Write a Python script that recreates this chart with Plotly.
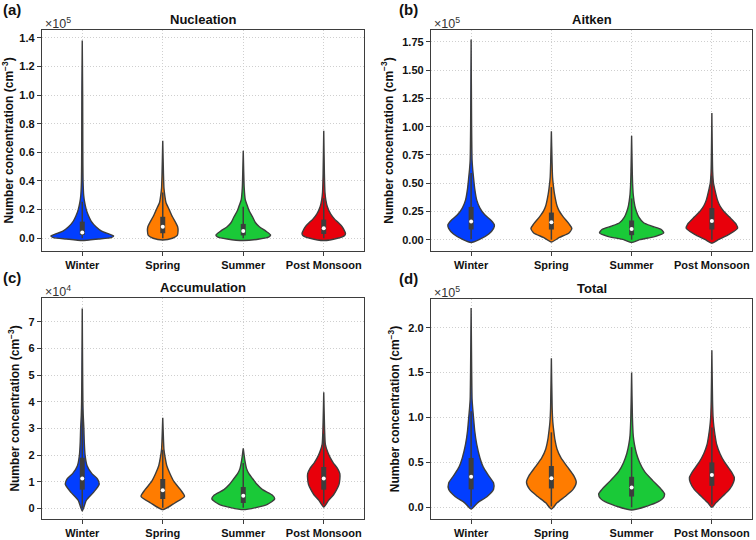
import plotly.graph_objects as go

SEASONS = ["Winter", "Spring", "Summer", "Post Monsoon"]
COLORS = ["#023eff", "#ff7c00", "#1ac938", "#e8000b"]

# ---------------- (a) Nucleation (x1e5 cm^-3) ----------------
NUC_Y = [
    [-0.016, -0.005, 0.005, 0.015, 0.03, 0.05, 0.08, 0.12, 0.16, 0.2, 0.25, 0.3, 0.4, 0.6, 1.0, 1.38],
    [-0.012, 0.0, 0.02, 0.05, 0.08, 0.11, 0.15, 0.2, 0.25, 0.3, 0.35, 0.45, 0.68],
    [-0.016, -0.005, 0.01, 0.023, 0.05, 0.08, 0.11, 0.15, 0.19, 0.22, 0.27, 0.35, 0.61],
    [-0.016, 0.0, 0.02, 0.035, 0.06, 0.08, 0.11, 0.13, 0.17, 0.22, 0.27, 0.32, 0.45, 0.75],
]
NUC_W = [
    [0.0, 0.2, 0.36, 0.39, 0.33, 0.24, 0.17, 0.11, 0.075, 0.05, 0.03, 0.018, 0.01, 0.007, 0.005, 0.0],
    [0.0, 0.12, 0.18, 0.19, 0.185, 0.16, 0.12, 0.08, 0.04, 0.025, 0.015, 0.009, 0.0],
    [0.0, 0.2, 0.32, 0.34, 0.28, 0.2, 0.15, 0.115, 0.075, 0.055, 0.025, 0.012, 0.0],
    [0.0, 0.17, 0.26, 0.27, 0.25, 0.23, 0.18, 0.14, 0.085, 0.045, 0.025, 0.015, 0.008, 0.0],
]
NUC_Q1 = [0.023, 0.035, 0.02, 0.03]
NUC_MED = [0.04, 0.08, 0.05, 0.07]
NUC_Q3 = [0.116, 0.15, 0.10, 0.13]
NUC_WLO = [0.0, 0.0, 0.0, 0.0]
NUC_WHI = [0.255, 0.32, 0.22, 0.28]

# ---------------- (b) Aitken (x1e5 cm^-3) ----------------
AIT_Y = [
    [-0.025, 0.0, 0.05, 0.1, 0.13, 0.17, 0.22, 0.28, 0.35, 0.45, 0.55, 0.62, 0.7, 1.0, 1.77],
    [-0.02, 0.02, 0.06, 0.1, 0.14, 0.2, 0.25, 0.3, 0.4, 0.45, 0.55, 0.7, 0.96],
    [-0.025, 0.0, 0.03, 0.06, 0.09, 0.12, 0.15, 0.2, 0.25, 0.3, 0.4, 0.5, 0.6, 0.92],
    [-0.03, 0.0, 0.05, 0.1, 0.14, 0.2, 0.25, 0.3, 0.35, 0.45, 0.5, 0.6, 1.12],
]
AIT_W = [
    [0.0, 0.1, 0.22, 0.28, 0.29, 0.25, 0.17, 0.11, 0.07, 0.045, 0.03, 0.02, 0.012, 0.006, 0.0],
    [0.0, 0.1, 0.22, 0.255, 0.22, 0.15, 0.1, 0.07, 0.04, 0.03, 0.015, 0.008, 0.0],
    [0.0, 0.1, 0.3, 0.4, 0.37, 0.25, 0.15, 0.09, 0.06, 0.04, 0.02, 0.012, 0.008, 0.0],
    [0.0, 0.08, 0.22, 0.32, 0.3, 0.22, 0.15, 0.1, 0.07, 0.035, 0.02, 0.01, 0.0],
]
AIT_Q1 = [0.09, 0.09, 0.04, 0.09]
AIT_MED = [0.16, 0.155, 0.095, 0.165]
AIT_Q3 = [0.29, 0.24, 0.17, 0.28]
AIT_WLO = [0.005, 0.0, 0.0, 0.0]
AIT_WHI = [0.59, 0.465, 0.365, 0.565]

# ---------------- (c) Accumulation (x1e4 cm^-3) ----------------
ACC_Y = [
    [-0.1, 0.3, 0.6, 0.9, 1.1, 1.3, 1.6, 2.0, 2.5, 3.0, 3.5, 4.0, 5.0, 7.5],
    [-0.05, 0.2, 0.45, 0.7, 1.0, 1.3, 1.6, 1.9, 2.2, 2.5, 3.4],
    [-0.05, 0.15, 0.35, 0.5, 0.7, 0.9, 1.1, 1.3, 1.5, 1.8, 2.25],
    [0.05, 0.3, 0.5, 0.7, 0.9, 1.1, 1.3, 1.5, 1.7, 1.9, 2.1, 2.4, 3.0, 4.35],
]
ACC_W = [
    [0.0, 0.05, 0.14, 0.21, 0.19, 0.12, 0.06, 0.035, 0.025, 0.02, 0.012, 0.008, 0.005, 0.0],
    [0.0, 0.15, 0.27, 0.22, 0.14, 0.09, 0.05, 0.03, 0.015, 0.01, 0.0],
    [0.0, 0.3, 0.39, 0.36, 0.24, 0.17, 0.12, 0.07, 0.04, 0.02, 0.0],
    [0.0, 0.06, 0.12, 0.16, 0.19, 0.2, 0.2, 0.17, 0.12, 0.08, 0.05, 0.02, 0.01, 0.0],
]
ACC_Q1 = [0.7, 0.35, 0.2, 0.7]
ACC_MED = [1.12, 0.68, 0.47, 1.12]
ACC_Q3 = [1.9, 1.1, 0.8, 1.55]
ACC_WLO = [0.0, 0.02, 0.02, 0.15]
ACC_WHI = [3.7, 2.2, 1.7, 2.8]

# ---------------- (d) Total (x1e5 cm^-3) ----------------
TOT_Y = [
    [-0.02, 0.05, 0.12, 0.2, 0.27, 0.35, 0.45, 0.55, 0.7, 0.85, 1.0, 1.1, 1.2, 1.5, 2.22],
    [-0.02, 0.05, 0.12, 0.2, 0.28, 0.35, 0.45, 0.55, 0.65, 0.75, 0.85, 0.95, 1.1, 1.66],
    [-0.03, 0.05, 0.1, 0.15, 0.2, 0.3, 0.4, 0.5, 0.6, 0.7, 0.8, 1.0, 1.5],
    [0.0, 0.05, 0.12, 0.2, 0.28, 0.33, 0.4, 0.5, 0.6, 0.7, 0.8, 0.9, 1.0, 1.2, 1.75],
]
TOT_W = [
    [0.0, 0.08, 0.2, 0.28, 0.28, 0.22, 0.15, 0.11, 0.07, 0.045, 0.03, 0.02, 0.012, 0.007, 0.0],
    [0.0, 0.07, 0.17, 0.27, 0.31, 0.28, 0.2, 0.12, 0.07, 0.045, 0.03, 0.018, 0.01, 0.0],
    [0.0, 0.3, 0.39, 0.41, 0.37, 0.26, 0.16, 0.1, 0.06, 0.035, 0.02, 0.01, 0.0],
    [0.0, 0.05, 0.13, 0.22, 0.27, 0.28, 0.24, 0.16, 0.1, 0.06, 0.04, 0.025, 0.015, 0.008, 0.0],
]
TOT_Q1 = [0.2, 0.21, 0.12, 0.24]
TOT_MED = [0.34, 0.325, 0.22, 0.36]
TOT_Q3 = [0.55, 0.46, 0.34, 0.5]
TOT_WLO = [0.01, 0.01, 0.0, 0.03]
TOT_WHI = [1.07, 0.835, 0.67, 0.89]

PANELS = [
    dict(label="(a)", title="Nucleation", mult="×10<sup>5</sup>", Y=NUC_Y, W=NUC_W,
         q1=NUC_Q1, med=NUC_MED, q3=NUC_Q3, wlo=NUC_WLO, whi=NUC_WHI,
         yr=[-0.089, 1.454], ticks=[0, 0.2, 0.4, 0.6, 0.8, 1.0, 1.2, 1.4], fmt=".1f"),
    dict(label="(b)", title="Aitken", mult="×10<sup>5</sup>", Y=AIT_Y, W=AIT_W,
         q1=AIT_Q1, med=AIT_MED, q3=AIT_Q3, wlo=AIT_WLO, whi=AIT_WHI,
         yr=[-0.1, 1.855], ticks=[0, 0.25, 0.5, 0.75, 1.0, 1.25, 1.5, 1.75], fmt=".2f"),
    dict(label="(c)", title="Accumulation", mult="×10<sup>4</sup>", Y=ACC_Y, W=ACC_W,
         q1=ACC_Q1, med=ACC_MED, q3=ACC_Q3, wlo=ACC_WLO, whi=ACC_WHI,
         yr=[-0.40, 7.89], ticks=[0, 1, 2, 3, 4, 5, 6, 7], fmt="d"),
    dict(label="(d)", title="Total", mult="×10<sup>5</sup>", Y=TOT_Y, W=TOT_W,
         q1=TOT_Q1, med=TOT_MED, q3=TOT_Q3, wlo=TOT_WLO, whi=TOT_WHI,
         yr=[-0.13, 2.32], ticks=[0, 0.5, 1.0, 1.5, 2.0], fmt=".1f"),
]

W, H = 756, 540
# panel frames in pixels (left, top, right, bottom)
FRAMES = [(42, 30, 364, 251), (431, 30, 752, 251), (42, 298, 364, 519), (431, 299, 752, 519)]

EDGE = "#3d3d3d"
GRID = "#cfcfcf"
FONT = "Liberation Sans, Arial, sans-serif"

fig = go.Figure()
layout = dict(width=W, height=H, margin=dict(l=0, r=0, t=0, b=0),
              paper_bgcolor="white", plot_bgcolor="white", showlegend=False,
              font=dict(family=FONT, color="#111111"))
annotations = []

for i, (p, fr) in enumerate(zip(PANELS, FRAMES)):
    n = "" if i == 0 else str(i + 1)
    xa, ya = "x" + n, "y" + n
    l, t, r, b = fr
    for k, season in enumerate(SEASONS):
        ys, ws = p["Y"][k], p["W"][k]
        px = [k + w for w in ws] + [k - w for w in reversed(ws)]
        py = list(ys) + list(reversed(ys))
        fig.add_trace(go.Scatter(x=px, y=py, xaxis=xa, yaxis=ya, mode="lines",
                                 fill="toself", fillcolor=COLORS[k],
                                 line=dict(color=EDGE, width=1.4, shape="spline", smoothing=0.6),
                                 hoverinfo="skip"))
        fig.add_trace(go.Scatter(x=[k, k], y=[p["wlo"][k], p["whi"][k]], xaxis=xa, yaxis=ya,
                                 mode="lines", line=dict(color=EDGE, width=1.5), hoverinfo="skip"))
        fig.add_trace(go.Scatter(x=[k, k], y=[p["q1"][k], p["q3"][k]], xaxis=xa, yaxis=ya,
                                 mode="lines", line=dict(color=EDGE, width=5), hoverinfo="skip"))
        fig.add_trace(go.Scatter(x=[k], y=[p["med"][k]], xaxis=xa, yaxis=ya, mode="markers",
                                 marker=dict(color="white", size=4, line=dict(width=0)),
                                 hoverinfo="skip"))
    axkey = "xaxis" + n
    aykey = "yaxis" + n
    layout[axkey] = dict(domain=[l / W, r / W], range=[-0.5, 3.5], anchor=ya,
                         tickvals=[0, 1, 2, 3], ticktext=["<b>%s</b>" % s for s in SEASONS],
                         tickfont=dict(size=11, family=FONT, color="#111111"),
                         showgrid=True, gridcolor=GRID, griddash="1px,2px", gridwidth=1,
                         showline=True, mirror=True, linecolor=EDGE, linewidth=1.3,
                         ticks="outside", ticklen=4, tickcolor=EDGE, zeroline=False, fixedrange=True)
    if p["fmt"] == "d":
        ttext = ["<b>%d</b>" % v for v in p["ticks"]]
    else:
        ttext = ["<b>" + format(v, p["fmt"]) + "</b>" for v in p["ticks"]]
    layout[aykey] = dict(domain=[1 - b / H, 1 - t / H], range=p["yr"], anchor=xa,
                         tickvals=p["ticks"], ticktext=ttext,
                         tickfont=dict(size=11, family=FONT, color="#111111"),
                         showgrid=True, gridcolor=GRID, griddash="1px,2px", gridwidth=1,
                         showline=True, mirror=True, linecolor=EDGE, linewidth=1.3,
                         ticks="outside", ticklen=4, tickcolor=EDGE, zeroline=False, fixedrange=True,
                         title=dict(text="<b>Number concentration (cm<sup>−3</sup>)</b>",
                                    font=dict(size=12, family=FONT, color="#111111"), standoff=6))
    # panel title
    annotations.append(dict(text="<b>%s</b>" % p["title"], xref="paper", yref="paper",
                            x=(l + r) / 2 / W, y=1 - (t - 11) / H, xanchor="center", yanchor="middle",
                            showarrow=False, font=dict(size=13, family=FONT, color="#111111")))
    # panel label
    annotations.append(dict(text="<b>%s</b>" % p["label"], xref="paper", yref="paper",
                            x=(l - 41 if l < 100 else l - 34) / W, y=1 - (t - 21) / H,
                            xanchor="left", yanchor="middle",
                            showarrow=False, font=dict(size=15, family=FONT, color="#111111")))
    # multiplier
    annotations.append(dict(text=p["mult"], xref="paper", yref="paper",
                            x=(l + 1) / W, y=1 - (t - 7) / H, xanchor="left", yanchor="middle",
                            showarrow=False, font=dict(size=12.5, family=FONT, color="#333333")))

layout["annotations"] = annotations
fig.update_layout(**layout)
fig.write_html("out.html", config={"displayModeBar": False},
               post_script="document.body.style.margin='0';document.body.style.padding='0';")
